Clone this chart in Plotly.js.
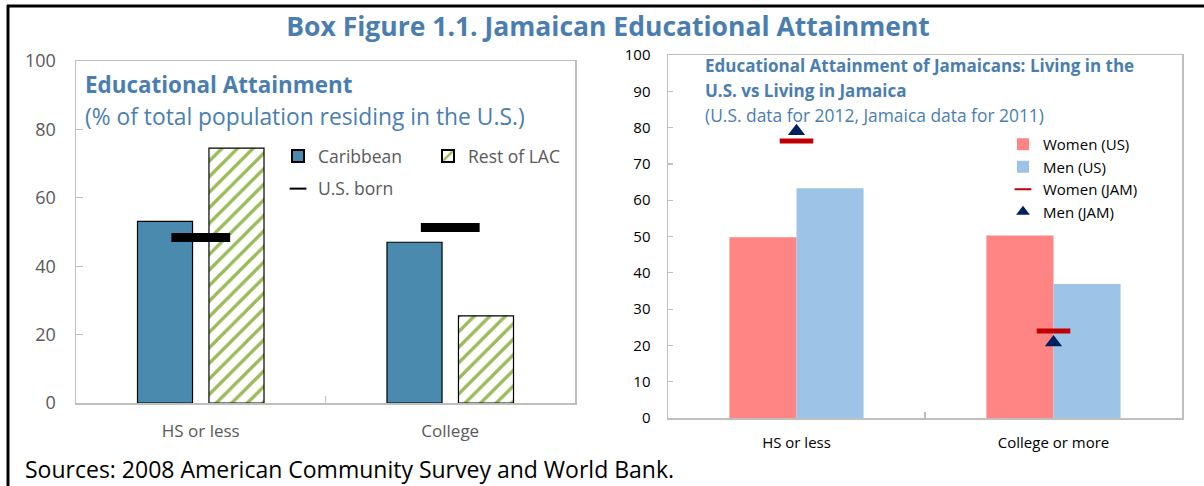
<!DOCTYPE html>
<html>
<head>
<meta charset="utf-8">
<script src="https://cdn.plot.ly/plotly-3.0.1.min.js"></script>
<style>html,body{margin:0;padding:0;background:#fff;}#chart{width:1204px;height:486px;}</style>
</head>
<body>
<div id="chart"></div>
<script>
// ---- Data ----
const leftCategories = ['HS or less', 'College'];
const caribbean = [53.1, 47.0];
const restOfLAC = [74.5, 25.5];
const usBorn = [48.4, 51.3];
const leftYTicks = [0, 20, 40, 60, 80, 100];

const rightCategories = ['HS or less', 'College or more'];
const womenUS = [49.8, 50.3];
const menUS = [63.3, 36.9];
const womenJAM = [76.3, 24.0];
const menJAM = [79.0, 20.8];
const rightYTicks = [0, 10, 20, 30, 40, 50, 60, 70, 80, 90, 100];

// ---- Helpers (pixel -> paper) ----
const W = 1204, H = 486;
const px = v => v / W;
const py = v => 1 - v / H;

const FONT = 'Open Sans, Noto Sans, sans-serif';
const TITLE_BLUE = '#4A7EB0';
const RIGHT_BAR_W = 0.261;

const traces = [
  {type: 'bar', name: 'Caribbean', x: leftCategories, y: caribbean, xaxis: 'x', yaxis: 'y',
   marker: {color: '#4A8AAE', line: {color: '#000', width: 1.2}},
   legend: 'legend', legendgroup: 'a'},
  {type: 'bar', name: 'Rest of LAC', x: leftCategories, y: restOfLAC, xaxis: 'x', yaxis: 'y',
   marker: {color: '#FFFFFF', line: {color: '#000', width: 1.2},
            pattern: {shape: '/', fgcolor: '#9BBB59', bgcolor: '#FFFFFF', size: 11, solidity: 0.3}},
   legend: 'legend2', legendgroup: 'b'},
  {type: 'scatter', mode: 'markers', name: 'U.S. born', x: leftCategories, y: usBorn, xaxis: 'x', yaxis: 'y',
   marker: {symbol: 'line-ew', size: 42, color: '#000', line: {color: '#000', width: 9}},
   legend: 'legend', legendgroup: 'c'},

  {type: 'bar', name: 'Women (US)', x: rightCategories, y: womenUS, xaxis: 'x2', yaxis: 'y2',
   width: RIGHT_BAR_W, offset: -RIGHT_BAR_W,
   marker: {color: '#FF8585', line: {width: 0}}, legend: 'legend3', legendgroup: 'd'},
  {type: 'bar', name: 'Men (US)', x: rightCategories, y: menUS, xaxis: 'x2', yaxis: 'y2',
   width: RIGHT_BAR_W, offset: 0,
   marker: {color: '#9DC3E6', line: {width: 0}}, legend: 'legend3', legendgroup: 'e'},
  {type: 'scatter', mode: 'markers', name: 'Women (JAM)', x: rightCategories, y: womenJAM, xaxis: 'x2', yaxis: 'y2',
   marker: {symbol: 'line-ew', size: 24, color: '#C00000', line: {color: '#C00000', width: 5}},
   legend: 'legend3', legendgroup: 'f'},
  {type: 'scatter', mode: 'markers', name: 'Men (JAM)', x: rightCategories, y: menJAM, xaxis: 'x2', yaxis: 'y2',
   marker: {symbol: 'triangle-up', size: 15, color: '#002060'},
   legend: 'legend3', legendgroup: 'g'}
];

const axisLine = {showline: true, linecolor: '#BFBFBF', linewidth: 1.5, mirror: true, showgrid: false, zeroline: false};

const layout = {
  width: W, height: H,
  margin: {l: 0, r: 0, t: 0, b: 0},
  paper_bgcolor: '#FFFFFF', plot_bgcolor: '#FFFFFF',
  font: {family: FONT},
  barmode: 'group',
  bargap: 0.427, bargroupgap: 0.23,
  showlegend: true,
  title: {text: '<b>Box Figure 1.1. Jamaican Educational Attainment</b>',
          x: 0.505, xanchor: 'center', y: py(27), yanchor: 'middle',
          font: {family: FONT, size: 26.5, color: TITLE_BLUE}},
  xaxis: Object.assign({}, axisLine, {domain: [px(76), px(575)], anchor: 'y', type: 'category', range: [-0.5, 1.5],
    ticks: 'inside', tickson: 'boundaries', ticklen: 7, tickcolor: '#BFBFBF', tickwidth: 1.2,
    tickfont: {family: FONT, size: 17, color: '#595959'}, ticklabelstandoff: 12}),
  yaxis: Object.assign({}, axisLine, {domain: [py(403), py(61)], anchor: 'x', range: [0, 100], tickvals: leftYTicks,
    ticks: 'inside', ticklen: 7, tickcolor: '#BFBFBF', tickwidth: 1.2,
    tickfont: {family: FONT, size: 18, color: '#595959'}, ticklabelstandoff: 15}),
  xaxis2: Object.assign({}, axisLine, {domain: [px(668), px(1182)], anchor: 'y2', type: 'category', range: [-0.5, 1.5],
    ticks: 'inside', tickson: 'boundaries', ticklen: 6, tickcolor: '#BFBFBF', tickwidth: 1.2,
    tickfont: {family: FONT, size: 15, color: '#000'}, ticklabelstandoff: 10}),
  yaxis2: Object.assign({}, axisLine, {domain: [py(418), py(55)], anchor: 'x2', range: [0, 100], tickvals: rightYTicks,
    ticks: 'inside', ticklen: 5, tickcolor: '#BFBFBF', tickwidth: 1.2,
    tickfont: {family: FONT, size: 15, color: '#000'}, ticklabelstandoff: 13}),
  legend: {x: px(278), y: py(138), xanchor: 'left', yanchor: 'top', bgcolor: 'rgba(0,0,0,0)',
    font: {family: FONT, size: 17.5, color: '#595959'}, tracegroupgap: 7, itemsizing: 'constant', traceorder: 'grouped'},
  legend2: {x: px(428), y: py(138), xanchor: 'left', yanchor: 'top', bgcolor: 'rgba(0,0,0,0)',
    font: {family: FONT, size: 17.5, color: '#595959'}, itemsizing: 'constant'},
  legend3: {x: px(1003), y: py(128), xanchor: 'left', yanchor: 'top', bgcolor: 'rgba(0,0,0,0)',
    font: {family: FONT, size: 15, color: '#000'}, itemsizing: 'constant', traceorder: 'normal'},
  annotations: [
    {text: '<b>Educational Attainment</b>', xref: 'paper', yref: 'paper', x: px(83), y: py(84),
     xanchor: 'left', yanchor: 'middle', showarrow: false, font: {family: FONT, size: 22.4, color: TITLE_BLUE}},
    {text: '(% of total population residing in the U.S.)', xref: 'paper', yref: 'paper', x: px(83), y: py(117),
     xanchor: 'left', yanchor: 'middle', showarrow: false, font: {family: FONT, size: 22.8, color: TITLE_BLUE}},
    {text: '<b>Educational Attainment of Jamaicans: Living in the</b>', xref: 'paper', yref: 'paper', x: px(703), y: py(65),
     xanchor: 'left', yanchor: 'middle', showarrow: false, font: {family: FONT, size: 17, color: TITLE_BLUE}},
    {text: '<b>U.S. vs Living in Jamaica</b>', xref: 'paper', yref: 'paper', x: px(703), y: py(91),
     xanchor: 'left', yanchor: 'middle', showarrow: false, font: {family: FONT, size: 17, color: TITLE_BLUE}},
    {text: '(U.S. data for 2012, Jamaica data for 2011)', xref: 'paper', yref: 'paper', x: px(703), y: py(115),
     xanchor: 'left', yanchor: 'middle', showarrow: false, font: {family: FONT, size: 17.4, color: TITLE_BLUE}},
    {text: 'Sources: 2008 American Community Survey and World Bank.', xref: 'paper', yref: 'paper', x: px(23), y: py(469),
     xanchor: 'left', yanchor: 'middle', showarrow: false, font: {family: FONT, size: 23, color: '#000'}}
  ],
  shapes: [
    {type: 'line', xref: 'paper', yref: 'paper', x0: px(7), x1: 1, y0: py(6), y1: py(6), line: {color: '#000', width: 3}},
    {type: 'line', xref: 'paper', yref: 'paper', x0: px(8), x1: px(8), y0: py(5), y1: 0, line: {color: '#000', width: 3}}
  ]
};

Plotly.newPlot('chart', traces, layout, {displayModeBar: false, staticPlot: true});
</script>
</body>
</html>
